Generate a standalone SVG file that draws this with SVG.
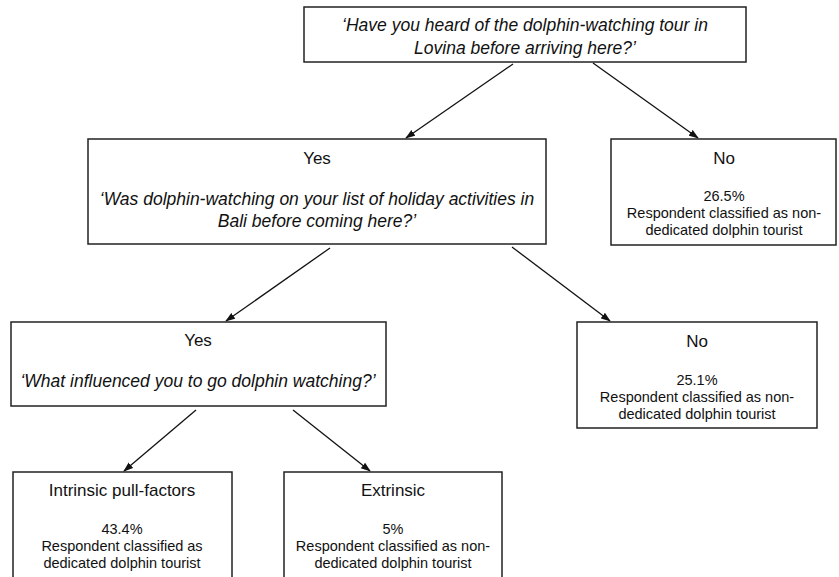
<svg xmlns="http://www.w3.org/2000/svg" width="839" height="577" viewBox="0 0 839 577">
<defs>
<style>
.box{fill:#fff;stroke:#222;stroke-width:1.5}
.t{font-family:"Liberation Sans",Arial,sans-serif;fill:#111;text-anchor:middle}
.h{font-size:17px}
.q{font-size:17.5px;font-style:italic}
.b{font-size:14.5px}
.c{stroke:#111;stroke-width:1.3;fill:none;marker-end:url(#ah)}
</style>
<marker id="ah" markerUnits="userSpaceOnUse" markerWidth="10" markerHeight="8" refX="9" refY="4" orient="auto">
<path d="M0,0.5 L10,4 L0,7.5 z" fill="#111"/>
</marker>
</defs>
<rect width="839" height="577" fill="#fff"/>
<g id="connectors">
<line class="c" x1="513" y1="64" x2="406" y2="138"/>
<line class="c" x1="593" y1="63" x2="698" y2="138"/>
<line class="c" x1="330" y1="248" x2="226" y2="321"/>
<line class="c" x1="512" y1="247" x2="610" y2="321"/>
<line class="c" x1="196" y1="410" x2="124" y2="471"/>
<line class="c" x1="293" y1="410" x2="370" y2="471"/>
</g>
<g id="q1">
<rect class="box" x="304" y="7" width="442" height="55"/>
<text class="t q" x="525" y="31">‘Have you heard of the dolphin-watching tour in</text>
<text class="t q" x="525" y="54">Lovina before arriving here?’</text>
</g>
<g id="yes1">
<rect class="box" x="88" y="139" width="458" height="105"/>
<text class="t h" x="317" y="164">Yes</text>
<text class="t q" x="317" y="205">‘Was dolphin-watching on your list of holiday activities in</text>
<text class="t q" x="317" y="227">Bali before coming here?’</text>
</g>
<g id="no1">
<rect class="box" x="611" y="139" width="225" height="106"/>
<text class="t h" x="724" y="164">No</text>
<text class="t b" x="724" y="201">26.5%</text>
<text class="t b" x="724" y="218">Respondent classified as non-</text>
<text class="t b" x="724" y="235">dedicated dolphin tourist</text>
</g>
<g id="yes2">
<rect class="box" x="11" y="322" width="375" height="84"/>
<text class="t h" x="198" y="346">Yes</text>
<text class="t q" x="198" y="387">‘What influenced you to go dolphin watching?’</text>
</g>
<g id="no2">
<rect class="box" x="577" y="322" width="240" height="106"/>
<text class="t h" x="697" y="347">No</text>
<text class="t b" x="697" y="385">25.1%</text>
<text class="t b" x="697" y="402">Respondent classified as non-</text>
<text class="t b" x="697" y="419">dedicated dolphin tourist</text>
</g>
<g id="intrinsic">
<rect class="box" x="13" y="472" width="219" height="130"/>
<text class="t h" x="122" y="496">Intrinsic pull-factors</text>
<text class="t b" x="122" y="534">43.4%</text>
<text class="t b" x="122" y="551">Respondent classified as</text>
<text class="t b" x="122" y="568">dedicated dolphin tourist</text>
</g>
<g id="extrinsic">
<rect class="box" x="284" y="472" width="218" height="130"/>
<text class="t h" x="393" y="496">Extrinsic</text>
<text class="t b" x="393" y="534">5%</text>
<text class="t b" x="393" y="551">Respondent classified as non-</text>
<text class="t b" x="393" y="568">dedicated dolphin tourist</text>
</g>
</svg>
